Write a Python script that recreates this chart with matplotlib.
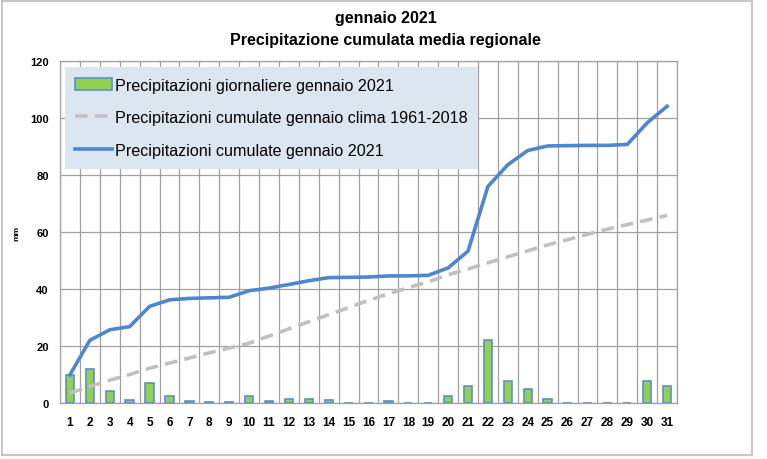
import matplotlib.pyplot as plt
import numpy as np
from matplotlib.patches import Rectangle

days = list(range(1, 32))
daily_2021 = [9.9, 11.8, 4.1, 1.0, 7.0, 2.3, 0.6, 0.2, 0.2, 2.3, 0.6, 1.4, 1.4, 1.0, 0.1, 0.1,
              0.6, 0.1, 0.1, 2.4, 6.0, 22.2, 7.6, 5.0, 1.5, 0.1, 0.0, 0.1, 0.1, 7.6, 6.0]
cum_2021 = [9.9, 22.0, 25.7, 26.8, 33.9, 36.2, 36.7, 36.9, 37.1, 39.4, 40.3, 41.6, 42.9, 44.0, 44.1, 44.2,
            44.6, 44.6, 44.8, 47.4, 53.3, 76.0, 83.6, 88.6, 90.2, 90.3, 90.4, 90.4, 90.7, 98.3, 104.1]
cum_clima = [3.5, 5.8, 8.0, 10.0, 12.2, 14.0, 15.8, 17.6, 19.3, 21.0, 23.5, 26.0, 28.5, 31.0, 33.5, 36.0,
             38.3, 40.5, 42.5, 45.0, 47.0, 49.2, 51.3, 53.4, 55.5, 57.3, 59.2, 61.0, 62.6, 64.2, 65.8]
yticks = [0, 20, 40, 60, 80, 100, 120]

plt.rcParams['font.family'] = ['Liberation Sans', 'DejaVu Sans']

fig = plt.figure(figsize=(7.67, 4.60), dpi=100)
fig.patches.append(Rectangle((0.003, 0.008), 0.977, 0.987, transform=fig.transFigure,
                             fill=False, edgecolor='#c8c8c8', linewidth=1.5))
ax = fig.add_axes([0.0782, 0.1217, 0.8045, 0.7435])

x = np.arange(len(days))
bars = ax.bar(x, daily_2021, width=0.42, color='#92d050', edgecolor='#5b8fd0', linewidth=1.2,
              label='Precipitazioni giornaliere gennaio 2021', zorder=3)
clima, = ax.plot(x, cum_clima, color='#c0c0c0', linestyle=(0, (3.5, 2)), linewidth=2.6,
                 label='Precipitazioni cumulate gennaio clima 1961-2018', zorder=4)
obs, = ax.plot(x, cum_2021, color='#4f86d0', linewidth=2.6,
               label='Precipitazioni cumulate gennaio 2021', zorder=5)

ax.set_xlim(-0.5, len(days) - 0.5)
ax.set_ylim(0, 120)
ax.set_yticks(yticks)
ax.set_yticklabels([str(v) for v in yticks], fontsize=8, fontweight='bold')
ax.set_xticks(x)
ax.set_xticklabels([str(d) for d in days], fontsize=8.5, fontweight='bold')
ax.set_xticks(np.arange(-0.5, len(days)), minor=True)
ax.tick_params(axis='both', which='both', length=0)
ax.tick_params(axis='x', pad=9)
ax.tick_params(axis='y', pad=8)
ax.grid(True, which='minor', axis='x', color='#a0a0a0', linewidth=0.9, zorder=0)
ax.grid(True, which='major', axis='y', color='#a0a0a0', linewidth=0.9, zorder=0)
for s in ax.spines.values():
    s.set_color('#a0a0a0')
    s.set_linewidth(0.9)
ax.set_axisbelow(True)
ax.set_ylabel('mm', fontsize=6, fontweight='bold', labelpad=7)

fig.text(0.503, 0.959, 'gennaio 2021', ha='center', va='center', fontsize=11.5, fontweight='bold')
fig.text(0.503, 0.913, 'Precipitazione cumulata media regionale', ha='center', va='center',
         fontsize=11.5, fontweight='bold')

leg = ax.legend([bars, clima, obs], [bars.get_label(), clima.get_label(), obs.get_label()],
                loc='upper left', bbox_to_anchor=(0.008, 0.982), fontsize=11.6, frameon=True,
                fancybox=False, framealpha=1, facecolor='#dce6f1', edgecolor='none',
                handlelength=2.3, handleheight=0.8, handletextpad=0.15, labelspacing=1.1,
                borderpad=0.65, borderaxespad=0)
leg.set_zorder(6)

fig.savefig('out.png', dpi=100)
